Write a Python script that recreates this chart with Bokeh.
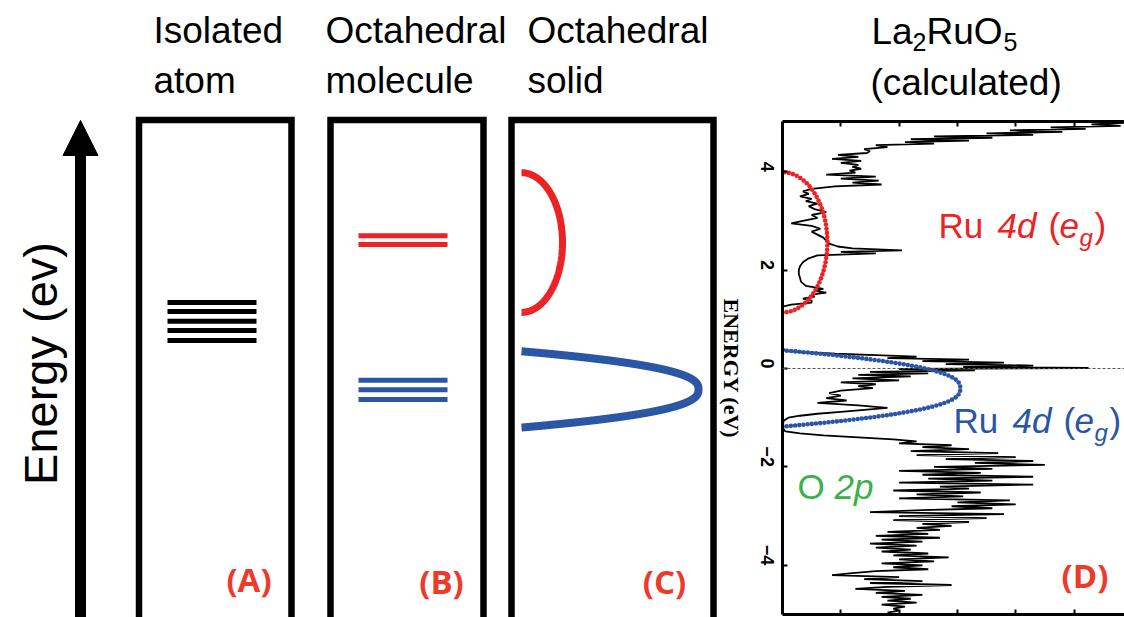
import math
import numpy as np
from bokeh.plotting import figure
from bokeh.layouts import row, column
from bokeh.models import Range1d, LinearAxis, FixedTicker, Arrow, NormalHead, Span
from bokeh.core.properties import value
from bokeh.embed import file_html
from bokeh.resources import INLINE

# ---------------- data ----------------
column_titles = [["Isolated", "atom"], ["Octahedral", "molecule"], ["Octahedral", "solid"]]
calc_formula = ["La", "2", "RuO", "5"]          # La2RuO5 with subscripts
calc_note = "(calculated)"
panel_tags = ["(A)", "(B)", "(C)", "(D)"]
energy_axis_label = "ENERGY (eV)"
energy_ticks = [-4, -2, 0, 2, 4]
dos_ticks = [1, 2, 3, 4, 5]

atom_levels = [1.34, 1.16, 0.96, 0.77, 0.57]      # isolated atom d levels (eV)
eg_levels = [2.70, 2.52]                          # octahedral molecule e_g
t2g_levels = [-0.24, -0.43, -0.63]                # octahedral molecule t2g
eg_band = [1.14, 3.98]                            # solid: bottom, top (eV)
t2g_band = [-1.20, 0.35]
dos_eg_band = [1.14, 3.99]
dos_t2g_band = [-1.18, 0.37]
dos_eg_weight = 0.77
dos_t2g_weight = 3.05

dos_energy = [
    5.05, 5.00, 4.96, 4.93, 4.90, 4.87, 4.84, 4.81, 4.78, 4.75,
    4.72, 4.69, 4.66, 4.63, 4.60, 4.57, 4.54, 4.50, 4.46, 4.42,
    4.38, 4.34, 4.30, 4.26, 4.22, 4.18, 4.14, 4.10, 4.06, 4.02,
    3.98, 3.94, 3.90, 3.86, 3.82, 3.78, 3.74, 3.70, 3.65, 3.60,
    3.55, 3.50, 3.45, 3.40, 3.35, 3.30, 3.24, 3.18, 3.12, 3.06,
    3.00, 2.95, 2.90, 2.84, 2.78, 2.72, 2.66, 2.60, 2.54, 2.48,
    2.44, 2.40, 2.37, 2.34, 2.30, 2.24, 2.16, 2.08, 2.00, 1.92,
    1.84, 1.76, 1.68, 1.62, 1.58, 1.54, 1.50, 1.46, 1.42, 1.38,
    1.34, 1.30, 1.26, 1.20, 0.40, 0.36, 0.33, 0.30, 0.27, 0.24,
    0.21, 0.18, 0.15, 0.12, 0.09, 0.06, 0.03, 0.01, -0.01, -0.04,
    -0.07, -0.10, -0.13, -0.16, -0.20, -0.24, -0.28, -0.32, -0.36, -0.40,
    -0.45, -0.50, -0.55, -0.60, -0.65, -0.70, -0.75, -0.80, -0.84, -0.88,
    -0.92, -0.96, -1.00, -1.06, -1.20, -1.28, -1.32, -1.36, -1.40, -1.44,
    -1.48, -1.52, -1.56, -1.60, -1.64, -1.68, -1.72, -1.76, -1.80, -1.84,
    -1.88, -1.92, -1.96, -2.00, -2.04, -2.08, -2.12, -2.16, -2.20, -2.24,
    -2.28, -2.32, -2.36, -2.40, -2.44, -2.48, -2.52, -2.56, -2.60, -2.64,
    -2.68, -2.72, -2.76, -2.80, -2.84, -2.88, -2.92, -2.96, -3.00, -3.04,
    -3.08, -3.12, -3.16, -3.20, -3.24, -3.28, -3.32, -3.36, -3.40, -3.44,
    -3.48, -3.52, -3.56, -3.60, -3.64, -3.68, -3.72, -3.76, -3.80, -3.84,
    -3.88, -3.92, -3.96, -4.00, -4.04, -4.08, -4.12, -4.16, -4.20, -4.24,
    -4.28, -4.32, -4.36, -4.40, -4.44, -4.48, -4.52, -4.56, -4.60, -4.64,
    -4.68, -4.72, -4.76, -4.80, -4.84, -4.88, -4.92, -4.96,
]
dos_value = [
    6.5, 6.0, 5.3, 5.8, 4.6, 5.2, 3.9, 4.8, 3.5, 4.3,
    2.6, 3.6, 2.2, 3.2, 2.1, 2.6, 1.6, 1.8, 1.4, 1.5,
    1.45, 0.95, 1.3, 0.85, 1.35, 1.0, 1.3, 1.2, 1.35, 1.15,
    1.25, 0.75, 1.6, 1.0, 1.65, 1.2, 1.7, 0.9, 0.5, 0.35,
    0.45, 0.3, 0.5, 0.4, 0.6, 0.45, 0.55, 0.75, 0.5, 0.6,
    0.35, 0.15, 0.5, 0.65, 0.5, 0.6, 0.7, 0.75, 0.8, 0.95,
    1.2, 2.05, 1.0, 1.6, 0.6, 0.45, 0.35, 0.3, 0.28, 0.28,
    0.3, 0.32, 0.4, 0.7, 0.55, 0.75, 0.5, 0.55, 0.35, 0.5,
    0.5, 0.15, 0.0, 0.0, 0.0, 0.1, 0.35, 0.9, 1.6, 2.3,
    1.8, 3.2, 2.4, 3.8, 2.8, 4.3, 3.1, 5.25, 2.0, 3.3,
    1.5, 2.5, 1.3, 2.2, 1.2, 2.0, 1.0, 1.6, 1.3, 1.55,
    1.0, 0.8, 1.0, 0.75, 1.1, 0.6, 1.3, 1.8, 1.4, 1.0,
    0.6, 0.3, 0.1, 0.02, 0.0, 0.05, 0.3, 0.7, 1.3, 1.9,
    2.3, 2.0, 2.9, 2.4, 3.2, 2.2, 3.7, 2.3, 4.0, 2.8,
    4.3, 3.3, 4.5, 2.6, 3.6, 2.0, 3.4, 2.4, 4.3, 2.5,
    3.6, 2.0, 4.3, 2.7, 3.2, 1.9, 3.4, 2.3, 3.1, 2.0,
    3.9, 3.0, 4.0, 2.9, 3.6, 2.4, 1.5, 3.8, 2.0, 3.5,
    1.9, 3.2, 2.4, 2.9, 2.3, 2.7, 1.8, 2.5, 1.6, 2.7,
    1.7, 2.4, 1.5, 2.3, 1.6, 2.2, 1.7, 2.5, 1.9, 2.85,
    2.0, 2.6, 1.7, 2.4, 1.9, 2.5, 1.6, 1.2, 0.85, 2.0,
    1.4, 2.4, 1.5, 2.9, 1.8, 1.25, 2.1, 1.6, 2.4, 1.7,
    2.2, 1.8, 2.3, 1.7, 2.1, 1.9, 2.0, 1.8,
]

# ---------------- style / layout ----------------
RED = "#ed2224"
BLUE = "#2b55a5"
GREEN = "#3bb149"
TAG_RED = "#ee3a2a"
SANS = "Liberation Sans"
SERIF = "Liberation Serif"

PX_PER_EV = 49.2
Y_ZERO = 368.0          # page y of E = 0
PX_PER_DOS = 58.3
W1, H = 744, 617
W2 = 1124 - W1
HEAD_H = 120            # height of the title strip above panel D
FRAME_D_LEFT = 782
FRAME_D_TOP = 121
FRAME_D_BOTTOM = 614
BASE_FIX = -12          # baseline correction (px) for ~36px text


def E_at(ypage):
    return (Y_ZERO - ypage) / PX_PER_EV


def D_at(xpage):
    return (xpage - FRAME_D_LEFT) / PX_PER_DOS


def envelope(bottom, top, width, kind, n=2000):
    t = np.linspace(-1.0, 1.0, n)
    c, h = (top + bottom) / 2.0, (top - bottom) / 2.0
    if kind == "ellipse":
        e = c + h * np.sin(t * math.pi / 2)
        x = width * np.cos(t * math.pi / 2)
    else:
        e = c + h * t
        x = width * (1.0 - np.abs(t) ** 2.5)
    return x, e


def dots_along(x, e, sx, sy, spacing):
    px, py = x * sx, e * sy
    d = np.concatenate([[0.0], np.cumsum(np.hypot(np.diff(px), np.diff(py)))])
    targets = np.arange(0.0, d[-1] + 0.01, spacing)
    return np.interp(targets, d, x), np.interp(targets, d, e)


def no_align(fig):
    if "frame_align" in fig.properties():
        fig.frame_align = False


def blank(fig):
    fig.grid.visible = False
    no_align(fig)


# ---------------- left figure: schematic panels ----------------
left = figure(width=W1, height=H, x_range=Range1d(0, W1),
              y_range=Range1d(E_at(H), E_at(0)),
              output_backend="svg", toolbar_location=None, min_border=0,
              x_axis_location=None, y_axis_location=None, title=None,
              outline_line_color=None, background_fill_color="white")
blank(left)

box_l = [138.5, 330.0, 511.0]
box_r = [291.0, 483.0, 713.0]
left.quad(left=box_l, right=box_r, top=[E_at(119.5)] * 3, bottom=[-9.0] * 3,
          fill_color=None, line_color="black", line_width=6.5, line_join="miter")

left.segment(x0=[167] * len(atom_levels), x1=[256] * len(atom_levels),
             y0=atom_levels, y1=atom_levels, line_color="black", line_width=5, line_cap="butt")
left.segment(x0=[358] * len(eg_levels), x1=[447] * len(eg_levels),
             y0=eg_levels, y1=eg_levels, line_color=RED, line_width=5, line_cap="butt")
left.segment(x0=[358] * len(t2g_levels), x1=[447] * len(t2g_levels),
             y0=t2g_levels, y1=t2g_levels, line_color=BLUE, line_width=5, line_cap="butt")

xr, er = envelope(eg_band[0], eg_band[1], 41.0, "ellipse")
left.line(521 + xr, er, line_color=RED, line_width=7)
xb, eb = envelope(t2g_band[0], t2g_band[1], 177.0, "parabola")
left.line(521 + xb, eb, line_color=BLUE, line_width=8)

title_x = [153, 325, 527]
for tx, (l1, l2) in zip(title_x, column_titles):
    left.text(x=[tx, tx], y=[E_at(42), E_at(92)], text=[l1, l2], y_offset=BASE_FIX,
              text_font=value(SANS), text_font_size="37px", text_color="black",
              text_align="left", text_baseline="alphabetic")

left.text(x=[40], y=[E_at(363)], text=["Energy (ev)"], angle=math.pi / 2,
          text_font=value(SANS), text_font_size="47px", text_color="black",
          text_align="center", text_baseline="alphabetic")

left.add_layout(Arrow(end=NormalHead(size=35, fill_color="black", line_color="black", line_width=1),
                      x_start=80, y_start=-9.0, x_end=80, y_end=E_at(120),
                      line_color="black", line_width=11))

left.text(x=[248.5, 441, 664], y=[E_at(579), E_at(581), E_at(581)], text=panel_tags[:3],
          text_font=value("Open Sans"), text_font_style="bold", text_font_size="33px",
          text_color=TAG_RED, text_align="center", text_baseline="middle")

# label of the DOS energy axis (next to panel D, reading downwards)
left.text(x=[731], y=[0.0], text=[energy_axis_label], angle=-math.pi / 2,
          text_font=value(SERIF), text_font_style="bold", text_font_size="22px",
          text_color="black", text_align="center", text_baseline="middle")

# ---------------- title strip above panel D ----------------
head = figure(width=W2, height=HEAD_H, x_range=Range1d(W1, W1 + W2),
              y_range=Range1d(HEAD_H, 0),
              output_backend="svg", toolbar_location=None, min_border=0,
              x_axis_location=None, y_axis_location=None, title=None,
              outline_line_color=None, background_fill_color="white")
blank(head)
head.text(x=[871, 926], y=[43, 43], text=[calc_formula[0], calc_formula[2]], y_offset=BASE_FIX,
          text_font=value(SANS), text_font_size="37px", text_color="black",
          text_align="left", text_baseline="alphabetic")
head.text(x=[912, 1003], y=[49, 49], text=[calc_formula[1], calc_formula[3]], y_offset=-8,
          text_font=value(SANS), text_font_size="25px", text_color="black",
          text_align="left", text_baseline="alphabetic")
head.text(x=[870], y=[94], text=[calc_note], y_offset=BASE_FIX,
          text_font=value(SANS), text_font_size="37px", text_color="black",
          text_align="left", text_baseline="alphabetic")

# ---------------- panel D: calculated DOS ----------------
right = figure(width=W2, height=H - HEAD_H,
               x_range=Range1d(0, D_at(W1 + W2)),
               y_range=Range1d(E_at(FRAME_D_BOTTOM), E_at(FRAME_D_TOP)),
               output_backend="svg", toolbar_location=None, title=None,
               min_border_left=FRAME_D_LEFT - W1, min_border_right=0,
               min_border_top=FRAME_D_TOP - HEAD_H, min_border_bottom=H - FRAME_D_BOTTOM,
               x_axis_location=None, y_axis_location=None,
               outline_line_color=None, background_fill_color="white")
blank(right)

yaxis = LinearAxis(ticker=FixedTicker(ticks=energy_ticks))
yaxis.axis_line_width = 3
yaxis.major_tick_in = 5
yaxis.major_tick_out = 0
yaxis.major_tick_line_width = 2
yaxis.minor_tick_in = 0
yaxis.minor_tick_out = 0
yaxis.major_label_orientation = -math.pi / 2
yaxis.major_label_text_font = SANS
yaxis.major_label_text_font_style = "bold"
yaxis.major_label_text_font_size = "18px"
yaxis.major_label_text_color = "black"
yaxis.major_label_standoff = 15
right.add_layout(yaxis, "left")

for loc in ("above", "below"):
    ax = LinearAxis(ticker=FixedTicker(ticks=dos_ticks))
    ax.axis_line_width = 3
    ax.major_tick_in = 5
    ax.major_tick_out = 0
    ax.major_tick_line_width = 2
    ax.minor_tick_in = 0
    ax.minor_tick_out = 0
    ax.major_label_overrides = {t: "" for t in dos_ticks}
    ax.major_label_text_font_size = "1px"
    ax.major_label_standoff = 0
    right.add_layout(ax, loc)

right.add_layout(Span(location=0, dimension="width", line_color="#555555",
                      line_dash="3 2", line_width=1))

right.line(dos_value, dos_energy, line_color="black", line_width=1.8)

dx, de = envelope(dos_eg_band[0], dos_eg_band[1], dos_eg_weight, "ellipse")
dxs, des = dots_along(dx, de, PX_PER_DOS, PX_PER_EV, 4.2)
right.scatter(dxs, des, size=4.6, fill_color=RED, line_color=None)
bx, be = envelope(dos_t2g_band[0], dos_t2g_band[1], dos_t2g_weight, "parabola")
bxs, bes = dots_along(bx, be, PX_PER_DOS, PX_PER_EV, 4.2)
right.scatter(bxs, bes, size=4.6, fill_color=BLUE, line_color=None)


def label_pieces(fig, x0, y0, color):
    pieces = [("Ru", 0, 0, "normal", "35px"), ("4d", 59, 0, "italic", "35px"),
              ("(", 110, 0, "normal", "35px"), ("e", 121, 0, "italic", "35px"),
              ("g", 141, 12, "italic", "24px"), (")", 156, 0, "normal", "35px")]
    for txt, xo, yo, style, size in pieces:
        fig.text(x=[x0], y=[y0], text=[txt], x_offset=xo, y_offset=yo + BASE_FIX,
                 text_font=value(SANS), text_font_style=style, text_font_size=size,
                 text_color=color, text_align="left", text_baseline="alphabetic")


label_pieces(right, D_at(938), E_at(237), RED)
label_pieces(right, D_at(953), E_at(432), BLUE)

right.text(x=[D_at(797)], y=[E_at(498)], text=["O"], y_offset=BASE_FIX, text_font=value(SANS),
           text_font_size="35px", text_color=GREEN, text_align="left", text_baseline="alphabetic")
right.text(x=[D_at(797)], y=[E_at(498)], text=["2p"], x_offset=37, y_offset=BASE_FIX,
           text_font=value(SANS), text_font_style="italic", text_font_size="35px",
           text_color=GREEN, text_align="left", text_baseline="alphabetic")

right.text(x=[D_at(1084.5)], y=[E_at(575)], text=[panel_tags[3]],
           text_font=value("Open Sans"), text_font_style="bold", text_font_size="33px",
           text_color=TAG_RED, text_align="center", text_baseline="middle")

layout = row(left, column(head, right, spacing=0), spacing=0)
open("out.html", "w").write(file_html(layout, INLINE))
